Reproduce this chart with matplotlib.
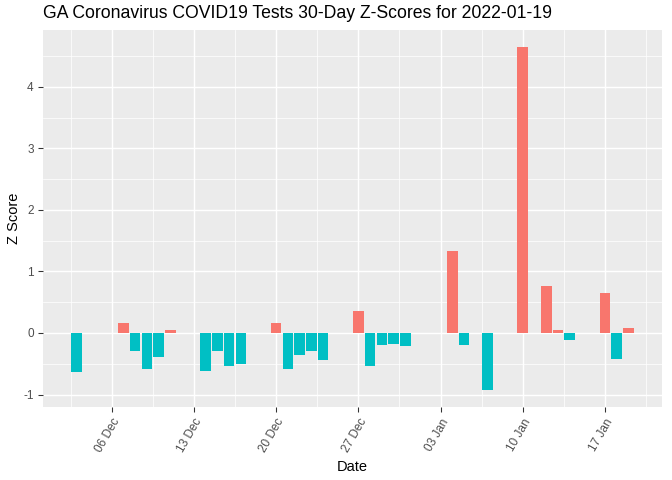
import matplotlib
matplotlib.use("Agg")
import matplotlib.pyplot as plt
import matplotlib.dates as mdates
from matplotlib.ticker import MultipleLocator, FixedLocator
import numpy as np
import datetime as dt

plt.rcParams['font.family'] = ['Liberation Sans', 'DejaVu Sans']
plt.rcParams['axes.unicode_minus'] = False

dates = ["2021-12-03", "2021-12-07", "2021-12-08", "2021-12-09", "2021-12-10", "2021-12-11",
         "2021-12-14", "2021-12-15", "2021-12-16", "2021-12-17",
         "2021-12-20", "2021-12-21", "2021-12-22", "2021-12-23", "2021-12-24",
         "2021-12-27", "2021-12-28", "2021-12-29", "2021-12-30", "2021-12-31",
         "2022-01-04", "2022-01-05", "2022-01-07",
         "2022-01-10", "2022-01-12", "2022-01-13", "2022-01-14",
         "2022-01-17", "2022-01-18", "2022-01-19"]
zscores = [-0.64, 0.16, -0.30, -0.58, -0.385, 0.05,
           -0.62, -0.30, -0.53, -0.50,
           0.16, -0.58, -0.35, -0.29, -0.435,
           0.36, -0.53, -0.19, -0.175, -0.21,
           1.34, -0.19, -0.925,
           4.65, 0.77, 0.05, -0.11,
           0.65, -0.42, 0.08]
tick_dates = ["2021-12-06", "2021-12-13", "2021-12-20", "2021-12-27",
              "2022-01-03", "2022-01-10", "2022-01-17"]
tick_labels = ["06 Dec", "13 Dec", "20 Dec", "27 Dec", "03 Jan", "10 Jan", "17 Jan"]
title = "GA Coronavirus COVID19 Tests 30-Day Z-Scores for 2022-01-19"

pos_color = "#F8766D"
neg_color = "#00BFC4"

x = mdates.date2num([dt.datetime.strptime(d, "%Y-%m-%d") for d in dates])
y = np.array(zscores)
colors = [pos_color if v > 0 else neg_color for v in y]

fig = plt.figure(figsize=(7, 5), dpi=96)
ax = fig.add_axes([0.064, 0.152, 0.921, 0.786])
ax.set_facecolor("#EBEBEB")

ax.bar(x, y, width=0.9, color=colors, zorder=3)

# limits with 5% expansion
xmin, xmax = x.min() - 0.45, x.max() + 0.45
xr = xmax - xmin
ax.set_xlim(xmin - 0.05 * xr, xmax + 0.05 * xr)
ymin, ymax = y.min(), y.max()
yr = ymax - ymin
ax.set_ylim(ymin - 0.05 * yr, ymax + 0.05 * yr)

tx = mdates.date2num([dt.datetime.strptime(d, "%Y-%m-%d") for d in tick_dates])
ax.set_xticks(tx)
ax.set_xticklabels(tick_labels, rotation=60, ha="right", va="top",
                   rotation_mode="anchor", fontsize=8.8, color="#4D4D4D")
minor_x = list(np.concatenate([[tx[0] - 3.5], tx + 3.5]))
ax.xaxis.set_minor_locator(FixedLocator(minor_x))

ax.yaxis.set_major_locator(MultipleLocator(1))
ax.yaxis.set_minor_locator(MultipleLocator(0.5))
ax.tick_params(axis="y", labelsize=8.8, labelcolor="#4D4D4D")
ax.tick_params(which="major", color="#333333", length=3.5, width=0.8)
ax.tick_params(which="minor", length=0)

ax.grid(which="major", color="white", linewidth=1.1, zorder=0)
ax.grid(which="minor", color="white", linewidth=0.55, zorder=0)
ax.set_axisbelow(True)
for s in ax.spines.values():
    s.set_visible(False)

ax.set_xlabel("Date", fontsize=11, color="black", labelpad=4)
ax.set_ylabel("Z Score", fontsize=11, color="black", labelpad=2)
fig.text(0.064, 0.955, title, fontsize=13.2, color="black", ha="left", va="bottom")

fig.savefig("out.png", dpi=96)
